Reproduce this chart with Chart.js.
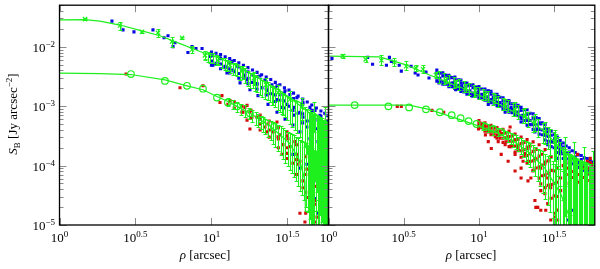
<!DOCTYPE html>
<html>
<head>
<meta charset="utf-8">
<script src="https://cdn.jsdelivr.net/npm/chart.js@4.4.1/dist/chart.umd.min.js"></script>
<style>
html, body { margin: 0; padding: 0; background: #fff; }
#wrap { position: relative; width: 600px; height: 269px; }
canvas { position: absolute; left: 0; top: 0; }
</style>
</head>
<body>
<div id="wrap">
  <canvas id="leftChart" width="600" height="269"></canvas>
  <canvas id="rightChart" width="600" height="269"></canvas>
</div>
<script>
// every value below is log10: rho in arcsec, S_B in Jy arcsec^-2
const xTicks = [0, 0.5, 1, 1.5];
const xTickExp = ['0', '0.5', '1', '1.5'];
const yTicks = [-2, -3, -4, -5];
const yTickExp = ['\u22122', '\u22123', '\u22124', '\u22125'];

// ---- left panel ----
const modelUpLeft = [[0, -1.547], [0.168, -1.543], [0.266, -1.568], [0.398, -1.634], [0.530, -1.725], [0.661, -1.815],
  [0.793, -1.947], [0.924, -2.079], [1.056, -2.195], [1.188, -2.343], [1.319, -2.541], [1.451, -2.739],
  [1.582, -2.987], [1.681, -3.185], [1.770, -3.350]];
const modelLowLeft = [[0, -2.442], [0.266, -2.451], [0.470, -2.467], [0.694, -2.558], [0.839, -2.657], [0.944, -2.723],
  [1.036, -2.838], [1.108, -2.921], [1.168, -3.003], [1.253, -3.119], [1.385, -3.333], [1.516, -3.630],
  [1.582, -3.927], [1.615, -4.257], [1.618, -4.769], [1.770, -4.769]];
const circLeft = [[0.470, -2.459], [0.694, -2.574], [0.839, -2.657], [0.944, -2.706], [1.036, -2.855], [1.108, -2.937],
  [1.168, -3.003], [1.253, -3.119], [1.332, -3.234], [1.411, -3.350]];
// [rho, S_B, low, high]
const crossLeft = [[0.168, -1.535, -1.551, -1.518], [0.398, -1.642, -1.716, -1.584], [0.543, -1.749, -1.766, -1.733],
  [0.648, -1.766, -1.832, -1.700], [0.740, -1.914, -1.997, -1.832], [0.806, -1.849, -1.865, -1.832],
  [0.872, -2.046, -2.112, -1.980], [0.957, -2.145, -2.212, -2.079], [1.043, -2.228, -2.294, -2.162],
  [1.122, -2.311, -2.393, -2.245], [1.201, -2.410, -2.509, -2.327], [1.280, -2.525, -2.640, -2.426],
  [1.359, -2.640, -2.772, -2.525], [1.438, -2.772, -2.921, -2.640], [1.516, -2.888, -3.070, -2.739],
  [1.595, -3.020, -3.234, -2.855], [1.674, -3.152, -3.432, -2.937], [1.747, -3.284, -3.762, -3.020]];
const blueLeft = [[0.345, -1.568], [0.418, -1.716], [0.490, -1.749], [0.615, -1.716], [0.688, -1.849], [0.714, -1.815],
  [0.747, -1.997], [0.760, -1.931], [0.845, -2.096], [0.872, -1.997], [0.898, -2.030], [0.938, -2.030],
  [0.990, -2.162], [1.056, -2.162], [1.135, -2.245], [1.168, -2.327], [1.207, -2.393], [1.273, -2.475],
  [1.319, -2.492], [1.352, -2.558], [1.398, -2.640], [1.431, -2.657], [1.484, -2.739], [1.516, -2.805],
  [1.562, -2.855], [1.602, -2.937], [1.648, -3.020], [1.681, -3.070], [1.714, -3.152], [1.747, -3.267],
  [1.766, -3.350], [1.010, -2.310], [1.102, -2.442], [1.188, -2.607], [1.253, -2.723], [1.306, -2.822],
  [1.372, -2.970], [1.431, -3.102], [1.484, -3.218], [1.536, -3.317], [1.582, -3.432], [1.648, -3.548],
  [1.141, -2.393], [1.234, -2.558], [1.299, -2.640], [1.365, -2.739], [1.431, -2.888], [1.497, -2.970],
  [1.536, -3.070], [1.602, -3.185], [1.668, -3.300], [1.714, -3.383], [1.734, -3.482], [1.760, -3.399],
  [1.760, -3.515], [1.760, -3.597], [1.701, -3.597], [1.734, -3.432], [1.089, -2.327], [1.220, -2.475],
  [1.332, -2.690], [1.451, -2.805], [1.464, -3.020], [1.582, -3.102], [1.628, -3.350], [1.681, -3.234],
  [1.727, -3.267], [1.536, -3.812], [1.648, -4.373], [1.668, -4.719], [1.701, -4.802], [1.747, -4.703],
  [1.766, -4.917], [1.681, -4.554], [1.727, -4.587], [1.760, -4.373], [1.753, -4.092], [1.714, -4.092],
  [1.628, -3.977], [1.668, -3.812], [1.582, -4.043], [1.747, -3.762], [1.760, -3.927], [1.648, -4.719],
  [1.694, -4.257],
  [1.00, -2.09], [1.00, -2.15], [1.00, -2.24], [1.00, -2.31], [1.06, -2.13], [1.06, -2.20], [1.06, -2.29], [1.06, -2.37],
  [1.12, -2.20], [1.12, -2.27], [1.12, -2.37], [1.12, -2.44], [1.18, -2.27], [1.18, -2.34], [1.18, -2.45], [1.18, -2.53],
  [1.24, -2.35], [1.24, -2.42], [1.24, -2.53], [1.24, -2.62], [1.30, -2.43], [1.30, -2.50], [1.30, -2.62], [1.30, -2.71],
  [1.36, -2.51], [1.36, -2.59], [1.36, -2.71], [1.36, -2.81], [1.42, -2.60], [1.42, -2.69], [1.42, -2.81], [1.42, -2.92],
  [1.48, -2.69], [1.48, -2.78], [1.48, -2.91], [1.48, -3.03], [1.54, -2.78], [1.54, -2.87], [1.54, -3.02], [1.54, -3.15],
  [1.60, -2.88], [1.60, -2.97], [1.60, -3.13], [1.60, -3.28], [1.66, -2.98], [1.66, -3.07], [1.66, -3.24], [1.66, -3.42],
  [1.72, -3.08], [1.72, -3.17], [1.72, -3.36], [1.72, -3.58], [1.765, -3.16], [1.765, -3.25], [1.765, -3.45], [1.765, -3.70],
  [1.03, -2.11], [1.09, -2.17], [1.15, -2.23], [1.21, -2.31], [1.27, -2.39], [1.33, -2.47], [1.39, -2.55], [1.45, -2.64],
  [1.51, -2.73], [1.57, -2.83], [1.63, -2.93], [1.69, -3.03], [1.745, -3.12],
  [1.03, -2.28], [1.09, -2.35], [1.15, -2.42], [1.21, -2.51], [1.27, -2.60], [1.33, -2.69], [1.39, -2.79], [1.45, -2.90],
  [1.51, -3.00], [1.57, -3.12], [1.63, -3.25], [1.69, -3.38], [1.745, -3.55]];
const redLeft = [[0.438, -2.459], [0.793, -2.690], [0.944, -2.657], [1.069, -2.822], [1.056, -2.937], [1.108, -2.970],
  [1.122, -2.904], [1.220, -3.020], [1.234, -2.987], [1.207, -3.102], [1.253, -3.102], [1.266, -3.185],
  [1.234, -3.234], [1.299, -3.185], [1.319, -3.218], [1.253, -3.383], [1.372, -3.300], [1.365, -3.432],
  [1.352, -3.350], [1.438, -3.350], [1.431, -3.267], [1.405, -3.432], [1.451, -3.482], [1.497, -3.432],
  [1.503, -3.548], [1.438, -3.515], [1.470, -3.647], [1.464, -3.812], [1.497, -3.795], [1.562, -3.812],
  [1.569, -3.977], [1.582, -3.927], [1.628, -4.059], [1.602, -4.257], [1.602, -4.373], [1.635, -4.538],
  [1.661, -4.554], [1.681, -4.587], [1.648, -4.703], [1.714, -4.752], [1.582, -4.802], [1.615, -4.950],
  [1.694, -4.868], [1.734, -4.917], [1.668, -4.092], [1.536, -3.960], [1.516, -3.680], [1.549, -3.597],
  [1.15, -2.93], [1.15, -3.03], [1.20, -3.00], [1.20, -3.10], [1.26, -3.07], [1.26, -3.20],
  [1.32, -3.15], [1.32, -3.30], [1.32, -3.40], [1.38, -3.25], [1.38, -3.40], [1.38, -3.52],
  [1.44, -3.36], [1.44, -3.55], [1.44, -3.70], [1.50, -3.50], [1.50, -3.70], [1.50, -3.88],
  [1.56, -3.65], [1.56, -3.90], [1.56, -4.15], [1.62, -3.85], [1.62, -4.15], [1.62, -4.45], [1.62, -4.80],
  [1.68, -4.00], [1.68, -4.35], [1.68, -4.65], [1.68, -4.95], [1.74, -4.20], [1.74, -4.50], [1.74, -4.75]];
// [rho, low, high]
const barsLeft = [[0.957, -2.228, -2.063], [1.010, -2.277, -2.112], [1.043, -2.310, -2.162], [1.089, -2.393, -2.195],
  [1.122, -2.442, -2.245], [1.155, -2.475, -2.277], [1.188, -2.558, -2.327], [1.220, -2.607, -2.360],
  [1.253, -2.690, -2.442], [1.286, -2.739, -2.475], [1.319, -2.805, -2.525], [1.352, -2.871, -2.574],
  [1.385, -2.937, -2.640], [1.418, -3.020, -2.690], [1.451, -3.102, -2.739], [1.484, -3.185, -2.805],
  [1.516, -3.300, -2.855], [1.549, -3.399, -2.904], [1.582, -3.515, -2.937], [1.615, -3.680, -3.020],
  [1.648, -3.927, -3.070], [1.681, -4.257, -3.135], [1.714, -4.835, -3.185], [1.734, -5.0, -3.234],
  [1.753, -5.0, -3.267], [1.766, -5.0, -3.300], [0.977, -2.261, -2.096], [1.069, -2.360, -2.195],
  [1.141, -2.475, -2.277], [1.240, -2.657, -2.410], [1.332, -2.838, -2.558], [1.398, -2.987, -2.673],
  [1.464, -3.135, -2.772], [1.530, -3.350, -2.871], [1.595, -3.597, -2.970], [1.661, -4.092, -3.102],
  [1.701, -4.587, -3.168],
  [0.99, -2.27, -2.10], [1.027, -2.30, -2.13], [1.105, -2.41, -2.22], [1.17, -2.50, -2.29], [1.205, -2.55, -2.33],
  [1.27, -2.70, -2.44], [1.30, -2.76, -2.50], [1.37, -2.90, -2.60], [1.405, -2.98, -2.66], [1.435, -3.06, -2.71],
  [1.47, -3.15, -2.77], [1.50, -3.24, -2.83], [1.565, -3.45, -2.92], [1.63, -3.80, -3.04], [1.695, -4.45, -3.15],
  [1.725, -4.95, -3.20], [1.745, -5.0, -3.25], [1.76, -5.0, -3.28],
  [1.108, -3.003, -2.855], [1.168, -3.102, -2.937], [1.220, -3.185, -2.987], [1.266, -3.267, -3.070],
  [1.306, -3.350, -3.135], [1.339, -3.432, -3.185], [1.372, -3.515, -3.234], [1.405, -3.630, -3.267],
  [1.438, -3.762, -3.317], [1.470, -3.894, -3.366], [1.503, -4.010, -3.432], [1.530, -4.125, -3.465],
  [1.556, -4.257, -3.515], [1.582, -4.422, -3.564], [1.609, -4.587, -3.597], [1.635, -4.785, -3.647],
  [1.661, -5.0, -3.696], [1.688, -5.0, -3.762],
  [1.14, -3.05, -2.90], [1.195, -3.14, -2.96], [1.245, -3.22, -3.03], [1.29, -3.31, -3.10], [1.325, -3.39, -3.16],
  [1.355, -3.47, -3.21], [1.39, -3.57, -3.25], [1.42, -3.69, -3.29], [1.455, -3.82, -3.34], [1.487, -3.95, -3.40],
  [1.517, -4.07, -3.45], [1.543, -4.19, -3.49], [1.57, -4.34, -3.54], [1.595, -4.50, -3.58], [1.622, -4.70, -3.62],
  [1.648, -4.90, -3.67], [1.675, -5.0, -3.73], [1.70, -5.0, -3.78],
  [1.642, -5.0, -3.10], [1.655, -5.0, -3.12], [1.668, -5.0, -3.14], [1.708, -5.0, -3.18], [1.72, -5.0, -3.20],
  [1.74, -5.0, -3.24], [1.77, -5.0, -3.30]];

// ---- right panel ----
const modelUpRight = [[0, -2.157], [0.339, -2.170], [0.516, -2.305], [0.668, -2.471], [0.885, -2.690], [1.109, -2.937],
  [1.326, -3.213], [1.438, -3.432], [1.543, -3.708], [1.655, -3.977], [1.773, -4.208]];
const modelLowRight = [[0, -2.982], [0.536, -2.982], [0.668, -3.053], [0.885, -3.234], [1.109, -3.432], [1.214, -3.564],
  [1.326, -3.762], [1.438, -4.043], [1.543, -4.472], [1.609, -4.917]];
const circRight = [[0.174, -2.982], [0.398, -3.003], [0.536, -3.020], [0.648, -3.053], [0.740, -3.102], [0.819, -3.152],
  [0.878, -3.201], [0.931, -3.251], [0.984, -3.300], [1.043, -3.350], [1.095, -3.383], [1.148, -3.432]];
const crossRight = [[0.095, -2.157, -2.195, -2.129], [0.247, -2.212, -2.261, -2.162], [0.352, -2.228, -2.310, -2.146],
  [0.438, -2.261, -2.327, -2.195], [0.516, -2.327, -2.393, -2.245], [0.582, -2.360, -2.410, -2.310],
  [0.628, -2.377, -2.442, -2.310], [0.714, -2.475, -2.525, -2.426], [0.780, -2.558, -2.607, -2.508],
  [0.845, -2.607, -2.673, -2.558], [0.911, -2.690, -2.756, -2.624], [0.977, -2.739, -2.822, -2.673],
  [1.043, -2.805, -2.888, -2.739], [1.109, -2.871, -2.954, -2.789], [1.174, -2.970, -3.070, -2.871],
  [1.240, -3.053, -3.168, -2.937], [1.306, -3.152, -3.284, -3.036], [1.372, -3.267, -3.416, -3.135],
  [1.438, -3.432, -3.630, -3.267], [1.503, -3.597, -3.927, -3.399], [1.569, -3.762, -4.340, -3.515],
  [1.635, -3.894, -4.835, -3.597], [1.701, -3.977, -5.0, -3.680], [1.760, -4.059, -5.0, -3.762]];
const blueRight = [[0.023, -2.195], [0.260, -2.178], [0.293, -2.294], [0.405, -2.178], [0.418, -2.245], [0.385, -2.310],
  [0.470, -2.310], [0.484, -2.410], [0.549, -2.327], [0.576, -2.442], [0.595, -2.475], [0.648, -2.426],
  [0.668, -2.525], [0.734, -2.442], [0.799, -2.492], [0.865, -2.558], [0.931, -2.640], [0.997, -2.690],
  [1.062, -2.739], [1.128, -2.838], [1.194, -2.904], [1.260, -2.987], [1.326, -3.135], [1.372, -3.218],
  [1.411, -3.300], [1.457, -3.432], [1.503, -3.548], [1.543, -3.647], [1.589, -3.795], [1.635, -3.878],
  [1.674, -3.960], [1.740, -3.977], [1.773, -4.010], [0.734, -2.607], [0.845, -2.723], [0.951, -2.822],
  [1.062, -2.970], [1.174, -3.102], [1.280, -3.267], [1.372, -3.432], [1.457, -3.647], [1.523, -3.878],
  [1.569, -4.043], [0.780, -2.574], [0.885, -2.657], [0.997, -2.772], [1.109, -2.888], [1.214, -3.020],
  [1.326, -3.218], [1.438, -3.482], [1.543, -3.762], [1.635, -3.977], [1.720, -4.092], [1.766, -4.208],
  [0.832, -2.607], [0.898, -2.706], [1.030, -2.805], [1.095, -2.855], [1.161, -2.970], [1.227, -3.070],
  [1.293, -3.152], [1.359, -3.300], [1.391, -3.383], [1.490, -3.597], [1.609, -3.927], [1.688, -4.043],
  [1.753, -4.125], [1.589, -4.917], [1.622, -4.752],
  [0.72, -2.39], [0.72, -2.44], [0.72, -2.53], [0.72, -2.58], [0.76, -2.44], [0.76, -2.49], [0.76, -2.58], [0.76, -2.63],
  [0.80, -2.48], [0.80, -2.53], [0.80, -2.62], [0.80, -2.67], [0.84, -2.51], [0.84, -2.56], [0.84, -2.65], [0.84, -2.70],
  [0.88, -2.56], [0.88, -2.61], [0.88, -2.70], [0.88, -2.75], [0.92, -2.61], [0.92, -2.66], [0.92, -2.75], [0.92, -2.80],
  [0.96, -2.64], [0.96, -2.69], [0.96, -2.78], [0.96, -2.83], [1.00, -2.67], [1.00, -2.72], [1.00, -2.81], [1.00, -2.86],
  [1.04, -2.71], [1.04, -2.76], [1.04, -2.85], [1.04, -2.90], [1.08, -2.75], [1.08, -2.80], [1.08, -2.89], [1.08, -2.94],
  [1.12, -2.80], [1.12, -2.85], [1.12, -2.94], [1.12, -2.99], [1.16, -2.86], [1.16, -2.91], [1.16, -3.00], [1.16, -3.05],
  [1.20, -2.91], [1.20, -2.96], [1.20, -3.05], [1.20, -3.10], [1.24, -2.96], [1.24, -3.01], [1.24, -3.10], [1.24, -3.15],
  [1.28, -3.02], [1.28, -3.07], [1.28, -3.16], [1.28, -3.21], [1.32, -3.06], [1.32, -3.13], [1.32, -3.24], [1.32, -3.32],
  [1.36, -3.13], [1.36, -3.20], [1.36, -3.31], [1.36, -3.39], [1.40, -3.21], [1.40, -3.28], [1.40, -3.39], [1.40, -3.47],
  [1.44, -3.31], [1.44, -3.38], [1.44, -3.49], [1.44, -3.57], [1.48, -3.42], [1.48, -3.49], [1.48, -3.60], [1.48, -3.68],
  [1.52, -3.52], [1.52, -3.59], [1.52, -3.70], [1.52, -3.78], [1.56, -3.62], [1.56, -3.69], [1.56, -3.80], [1.56, -3.88],
  [1.60, -3.70], [1.60, -3.77], [1.60, -3.88], [1.60, -3.96], [1.64, -3.78], [1.64, -3.85], [1.64, -3.96], [1.64, -4.04],
  [1.68, -3.83], [1.68, -3.90], [1.68, -4.01], [1.68, -4.09], [1.72, -3.88], [1.72, -3.95], [1.72, -4.06], [1.72, -4.14],
  [1.76, -3.94], [1.76, -4.01], [1.76, -4.12], [1.76, -4.20],
  [0.74, -2.44], [0.74, -2.53], [0.74, -2.59], [0.78, -2.48], [0.78, -2.57], [0.78, -2.63],
  [0.82, -2.52], [0.82, -2.61], [0.82, -2.67], [0.86, -2.56], [0.86, -2.65], [0.86, -2.71],
  [0.90, -2.61], [0.90, -2.70], [0.90, -2.76], [0.94, -2.65], [0.94, -2.74], [0.94, -2.80],
  [0.98, -2.68], [0.98, -2.77], [0.98, -2.83], [1.02, -2.71], [1.02, -2.80], [1.02, -2.86],
  [1.06, -2.75], [1.06, -2.84], [1.06, -2.90], [1.10, -2.80], [1.10, -2.89], [1.10, -2.95],
  [1.14, -2.85], [1.14, -2.94], [1.14, -3.00], [1.18, -2.91], [1.18, -3.00], [1.18, -3.06],
  [1.22, -2.96], [1.22, -3.05], [1.22, -3.11], [1.26, -3.01], [1.26, -3.10], [1.26, -3.16],
  [1.30, -3.06], [1.30, -3.17], [1.30, -3.24], [1.34, -3.12], [1.34, -3.24], [1.34, -3.31],
  [1.38, -3.19], [1.38, -3.31], [1.38, -3.39], [1.42, -3.28], [1.42, -3.40], [1.42, -3.48],
  [1.46, -3.38], [1.46, -3.51], [1.46, -3.59], [1.50, -3.48], [1.50, -3.61], [1.50, -3.70],
  [1.54, -3.58], [1.54, -3.71], [1.54, -3.80], [1.58, -3.67], [1.58, -3.80], [1.58, -3.89],
  [1.62, -3.75], [1.62, -3.88], [1.62, -3.97], [1.66, -3.82], [1.66, -3.95], [1.66, -4.03],
  [1.70, -3.87], [1.70, -4.00], [1.70, -4.08], [1.74, -3.92], [1.74, -4.05], [1.74, -4.13]];
const redRight = [[0.457, -3.003], [0.484, -3.003], [0.688, -3.070], [0.766, -3.102], [0.997, -3.383], [1.062, -3.432],
  [1.109, -3.515], [1.148, -3.465], [1.194, -3.515], [1.207, -3.350], [1.240, -3.564], [1.174, -3.647],
  [1.260, -3.713], [1.306, -3.795], [1.240, -3.812], [1.326, -3.927], [1.372, -3.878], [1.411, -4.043],
  [1.280, -4.043], [1.345, -4.208], [1.411, -4.307], [1.438, -4.472], [1.391, -4.703], [1.411, -4.752],
  [1.457, -4.637], [1.503, -4.802], [1.523, -4.917], [1.477, -4.917], [1.543, -4.208], [1.589, -4.043],
  [1.635, -4.092], [1.674, -4.043], [1.720, -4.142], [1.766, -4.208], [1.674, -4.257], [1.635, -3.927],
  [1.543, -4.422], [1.477, -4.373], [1.457, -4.208], [1.326, -3.713], [1.438, -3.977], [1.378, -4.703],
  [1.444, -4.752], [1.503, -4.868], [1.372, -4.587], [1.411, -4.422], [1.326, -4.257], [1.280, -4.208],
  [1.240, -4.092], [1.194, -3.927], [1.148, -3.812], [1.082, -3.713], [1.062, -3.597], [1.043, -3.482],
  [1.655, -3.812], [1.740, -3.878], [1.701, -4.043], [1.753, -3.977], [1.720, -3.927], [1.293, -3.927],
  [1.359, -4.092], [1.128, -3.597], [1.214, -3.680],
  [1.00, -3.24], [1.00, -3.28], [1.00, -3.32], [1.00, -3.36], [1.04, -3.28], [1.04, -3.33], [1.04, -3.37], [1.04, -3.42],
  [1.08, -3.32], [1.08, -3.37], [1.08, -3.43], [1.08, -3.48], [1.12, -3.36], [1.12, -3.42], [1.12, -3.48], [1.12, -3.54],
  [1.16, -3.39], [1.16, -3.46], [1.16, -3.54], [1.16, -3.61], [1.20, -3.42], [1.20, -3.51], [1.20, -3.59], [1.20, -3.68],
  [1.24, -3.47], [1.24, -3.57], [1.24, -3.67], [1.24, -3.77], [1.28, -3.52], [1.28, -3.63], [1.28, -3.75], [1.28, -3.86],
  [1.32, -3.56], [1.32, -3.69], [1.32, -3.83], [1.32, -3.96], [1.36, -3.60], [1.36, -3.76], [1.36, -3.92], [1.36, -4.08],
  [1.40, -3.65], [1.40, -3.84], [1.40, -4.02], [1.40, -4.21], [1.44, -3.73], [1.44, -3.94], [1.44, -4.16], [1.44, -4.37],
  [1.48, -3.85], [1.48, -4.08], [1.48, -4.32], [1.48, -4.55], [1.52, -4.05], [1.52, -4.28], [1.52, -4.52], [1.52, -4.75],
  [1.60, -3.95], [1.64, -4.02], [1.68, -4.10], [1.72, -4.05], [1.76, -4.15], [1.70, -4.20], [1.62, -4.10], [1.74, -3.95],
  [1.02, -3.29], [1.02, -3.33], [1.02, -3.36], [1.06, -3.33], [1.06, -3.38], [1.06, -3.42],
  [1.10, -3.37], [1.10, -3.43], [1.10, -3.48], [1.14, -3.42], [1.14, -3.48], [1.14, -3.54],
  [1.18, -3.45], [1.18, -3.53], [1.18, -3.60], [1.22, -3.50], [1.22, -3.59], [1.22, -3.67],
  [1.26, -3.56], [1.26, -3.66], [1.26, -3.75], [1.30, -3.61], [1.30, -3.73], [1.30, -3.84],
  [1.34, -3.67], [1.34, -3.80], [1.34, -3.93], [1.38, -3.73], [1.38, -3.89], [1.38, -4.04],
  [1.42, -3.81], [1.42, -3.99], [1.42, -4.17], [1.46, -3.92], [1.46, -4.13], [1.46, -4.33],
  [1.50, -4.09], [1.50, -4.30], [1.50, -4.51],
  [1.56, -4.00], [1.58, -4.15], [1.62, -4.20], [1.66, -4.15], [1.70, -4.05], [1.74, -4.10], [1.77, -4.25],
  [1.66, -4.28], [1.60, -4.30], [1.72, -4.25]];
const barsRight = [[0.734, -2.607, -2.410], [0.799, -2.657, -2.475], [0.865, -2.723, -2.541], [0.931, -2.805, -2.607],
  [0.997, -2.871, -2.673], [1.062, -2.937, -2.739], [1.128, -3.020, -2.822], [1.194, -3.102, -2.904],
  [1.260, -3.218, -2.987], [1.326, -3.350, -3.102], [1.391, -3.515, -3.218], [1.457, -3.729, -3.350],
  [1.497, -3.927, -3.432], [1.523, -4.175, -3.515], [1.556, -4.587, -3.680], [1.589, -5.0, -3.762],
  [1.622, -5.0, -3.845], [1.655, -5.0, -3.894], [1.688, -5.0, -3.927], [1.720, -5.0, -3.960],
  [1.753, -5.0, -4.010], [1.773, -5.0, -4.043],
  [0.766, -2.63, -2.44], [0.832, -2.69, -2.51], [0.898, -2.76, -2.57], [0.964, -2.84, -2.64], [1.03, -2.90, -2.71],
  [1.095, -2.98, -2.78], [1.16, -3.06, -2.86], [1.227, -3.16, -2.94], [1.293, -3.28, -3.04], [1.358, -3.43, -3.16],
  [1.424, -3.62, -3.28], [1.475, -3.82, -3.39], [1.51, -4.05, -3.47], [1.54, -4.35, -3.60], [1.572, -4.85, -3.72],
  [1.605, -5.0, -3.80], [1.64, -5.0, -3.87], [1.672, -5.0, -3.91], [1.705, -5.0, -3.94], [1.737, -5.0, -3.98],
  [1.763, -5.0, -4.02],
  [1.161, -3.531, -3.399], [1.194, -3.597, -3.432], [1.227, -3.680, -3.465], [1.260, -3.762, -3.515],
  [1.293, -3.861, -3.564], [1.326, -3.977, -3.597], [1.359, -4.092, -3.647], [1.391, -4.257, -3.713],
  [1.424, -4.455, -3.762], [1.457, -4.670, -3.845], [1.490, -4.884, -3.927], [1.523, -5.0, -4.010],
  [1.556, -5.0, -4.092], [1.030, -3.399, -3.267], [1.095, -3.482, -3.333],
  [1.177, -3.56, -3.42], [1.21, -3.64, -3.45], [1.243, -3.72, -3.49], [1.277, -3.81, -3.54], [1.31, -3.92, -3.58],
  [1.342, -4.03, -3.62], [1.375, -4.17, -3.68], [1.407, -4.35, -3.74], [1.44, -4.56, -3.80], [1.473, -4.78, -3.88],
  [1.507, -5.0, -3.97], [1.54, -5.0, -4.05], [1.06, -3.44, -3.30], [1.128, -3.51, -3.37],
  [1.58, -5.0, -3.78], [1.597, -5.0, -3.80], [1.614, -5.0, -3.83], [1.63, -5.0, -3.86], [1.647, -5.0, -3.88],
  [1.664, -5.0, -3.90], [1.68, -5.0, -3.92], [1.697, -5.0, -3.94], [1.713, -5.0, -3.95], [1.73, -5.0, -3.97],
  [1.745, -5.0, -4.00], [1.768, -5.0, -4.03], [1.49, -5.0, -3.98], [1.515, -5.0, -4.0], [1.565, -5.0, -3.76]];

const GREEN = '#1ef01e';
const SERIF = '"Liberation Serif", "Times New Roman", serif';

function pts(arr) {
  return arr.map(p => ({ x: p[0], y: p[1] }));
}

// draws "10" with a raised exponent, anchored at the given alignment
function drawPow(ctx, exp, x, y, align) {
  ctx.font = '13px ' + SERIF;
  const wb = ctx.measureText('10').width;
  ctx.font = '9px ' + SERIF;
  const we = ctx.measureText(exp).width;
  const w = wb + we;
  let x0 = x;
  if (align === 'center') x0 = x - w / 2;
  if (align === 'right') x0 = x - w;
  ctx.font = '13px ' + SERIF;
  ctx.fillText('10', x0, y);
  ctx.font = '9px ' + SERIF;
  ctx.fillText(exp, x0 + wb, y - 5);
}

const axesPlugin = {
  id: 'axesPlugin',
  afterDatasetsDraw(chart, args, opts) {
    const { ctx, chartArea: a, scales: { x, y } } = chart;
    // green error bars
    ctx.save();
    ctx.beginPath();
    ctx.rect(a.left, a.top, a.width, a.height);
    ctx.clip();
    ctx.strokeStyle = GREEN;
    ctx.lineWidth = 1.1;
    ctx.beginPath();
    opts.bars.forEach(b => {
      const px = Math.round(x.getPixelForValue(b[0])) + 0.5;
      const p1 = Math.round(y.getPixelForValue(b[1])) + 0.5;
      const p2 = Math.round(y.getPixelForValue(b[2])) + 0.5;
      ctx.moveTo(px, p1); ctx.lineTo(px, p2);
      ctx.moveTo(px - 2, p1); ctx.lineTo(px + 2, p1);
      ctx.moveTo(px - 2, p2); ctx.lineTo(px + 2, p2);
    });
    ctx.stroke();
    ctx.restore();
  },
  afterDraw(chart, args, opts) {
    const { ctx, chartArea: a, scales: { x, y } } = chart;
    ctx.save();
    // ticks, pointing inwards on all four sides
    ctx.strokeStyle = '#8a8a8a';
    ctx.lineWidth = 1;
    ctx.beginPath();
    xTicks.forEach(v => {
      const px = Math.round(x.getPixelForValue(v)) + 0.5;
      ctx.moveTo(px, a.bottom); ctx.lineTo(px, a.bottom - 7);
      ctx.moveTo(px, a.top); ctx.lineTo(px, a.top + 7);
    });
    for (let d = -5; d <= -2; d++) {
      for (let m = 1; m <= 9; m++) {
        const v = d + Math.log10(m);
        if (v > y.max) continue;
        const py = Math.round(y.getPixelForValue(v)) + 0.5;
        const len = m === 1 ? 7 : 4;
        ctx.moveTo(a.left, py); ctx.lineTo(a.left + len, py);
        ctx.moveTo(a.right, py); ctx.lineTo(a.right - len, py);
      }
    }
    ctx.stroke();
    // frame
    ctx.strokeStyle = '#000';
    ctx.lineWidth = 1.3;
    ctx.strokeRect(a.left, a.top, a.width, a.height);
    // tick labels
    ctx.fillStyle = '#000';
    ctx.textBaseline = 'alphabetic';
    xTicks.forEach((v, i) => {
      drawPow(ctx, xTickExp[i], x.getPixelForValue(v), 242, 'center');
    });
    if (opts.yLabels) {
      yTicks.forEach((v, i) => {
        drawPow(ctx, yTickExp[i], 55, y.getPixelForValue(v) + 5, 'right');
      });
      // y title
      ctx.save();
      ctx.translate(17, 114);
      ctx.rotate(-Math.PI / 2);
      const parts = [
        ['italic 13px ' + SERIF, 'S', 0],
        ['9px ' + SERIF, 'B', 3],
        ['13px ' + SERIF, ' [Jy arcsec', 0],
        ['9px ' + SERIF, '\u22122', -5],
        ['13px ' + SERIF, ']', 0]
      ];
      let total = 0;
      parts.forEach(p => { ctx.font = p[0]; total += ctx.measureText(p[1]).width; });
      let cx = -total / 2;
      parts.forEach(p => { ctx.font = p[0]; ctx.fillText(p[1], cx, p[2]); cx += ctx.measureText(p[1]).width; });
      ctx.restore();
    }
    // x title
    ctx.font = 'italic 13px ' + SERIF;
    const wr = ctx.measureText('\u03c1').width;
    ctx.font = '13px ' + SERIF;
    const wt = ctx.measureText(' [arcsec]').width;
    const sx = opts.titleX - (wr + wt) / 2;
    ctx.font = 'italic 13px ' + SERIF;
    ctx.fillText('\u03c1', sx, 259);
    ctx.font = '13px ' + SERIF;
    ctx.fillText(' [arcsec]', sx + wr, 259);
    ctx.restore();
  }
};

function makeChart(id, pad, d, extra) {
  return new Chart(document.getElementById(id), {
    type: 'scatter',
    data: {
      datasets: [
        { data: pts(d.modelUp), showLine: true, borderColor: GREEN, borderWidth: 1.2, pointRadius: 0, order: 1 },
        { data: pts(d.modelLow), showLine: true, borderColor: GREEN, borderWidth: 1.2, pointRadius: 0, order: 1 },
        { data: pts(d.cross), pointStyle: 'crossRot', pointRadius: 3, borderColor: GREEN, borderWidth: 1.2, order: 2 },
        { data: pts(d.circ), pointStyle: 'circle', pointRadius: 3.3, borderColor: GREEN, backgroundColor: 'rgba(0,0,0,0)', borderWidth: 1.2, order: 2 },
        { data: pts(d.red), pointStyle: 'rect', pointRadius: 2.2, borderWidth: 0, backgroundColor: '#d40c0c', order: 3 },
        { data: pts(d.blue), pointStyle: 'rect', pointRadius: 2.2, borderWidth: 0, backgroundColor: '#0808e0', order: 4 }
      ]
    },
    options: {
      responsive: false,
      animation: false,
      devicePixelRatio: 1,
      layout: { padding: pad },
      plugins: {
        legend: { display: false },
        tooltip: { enabled: false },
        axesPlugin: extra
      },
      scales: {
        x: { type: 'linear', min: 0, max: 1.77, display: false },
        y: { type: 'linear', min: -5, max: -1.3, display: false }
      }
    },
    plugins: [axesPlugin]
  });
}

makeChart('leftChart', { left: 59.5, right: 271.5, top: 1, bottom: 44 },
  { modelUp: modelUpLeft, modelLow: modelLowLeft, cross: crossLeft, circ: circLeft, red: redLeft, blue: blueLeft },
  { bars: barsLeft.concat(crossLeft.map(c => [c[0], c[2], c[3]])), yLabels: true, titleX: 205 });

makeChart('rightChart', { left: 328.5, right: 2, top: 1, bottom: 44 },
  { modelUp: modelUpRight, modelLow: modelLowRight, cross: crossRight, circ: circRight, red: redRight, blue: blueRight },
  { bars: barsRight.concat(crossRight.map(c => [c[0], c[2], c[3]])), yLabels: false, titleX: 471 });
</script>
</body>
</html>
